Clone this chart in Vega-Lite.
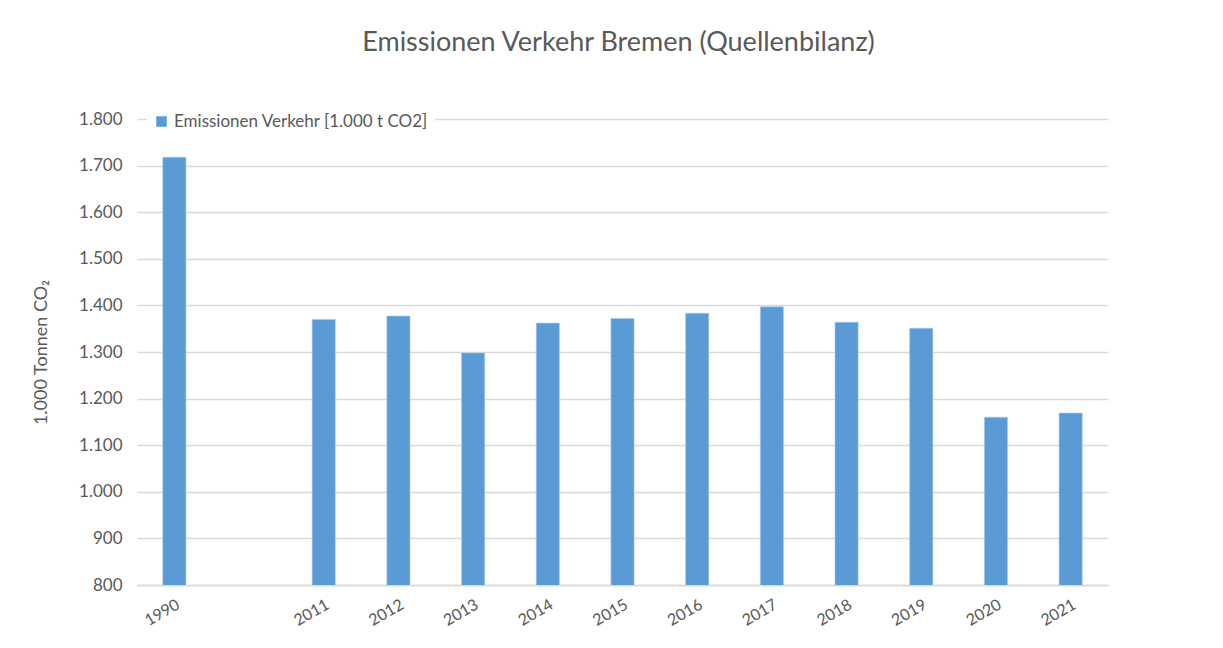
{
  "$schema": "https://vega.github.io/schema/vega-lite/v6.json",
  "width": 971,
  "height": 466,
  "autosize": {"type": "none"},
  "padding": {"left": 137, "top": 119, "right": 115, "bottom": 63},
  "background": "white",
  "config": {
    "locale": {"number": {"decimal": ",", "thousands": ".", "grouping": [3], "currency": ["", " €"]}},
    "font": "Lato",
    "view": {"stroke": null}
  },
  "title": {
    "text": "Emissionen Verkehr Bremen (Quellenbilanz)",
    "fontSize": 27,
    "font": "Lato",
    "fontWeight": "normal",
    "color": "#595959",
    "anchor": "middle",
    "dx": -4,
    "offset": 50
  },
  "data": {
    "values": [
      {"Jahr": "1990", "Wert": 1718, "Serie": "Emissionen Verkehr [1.000 t CO2]"},
      {"Jahr": "2011", "Wert": 1370, "Serie": "Emissionen Verkehr [1.000 t CO2]"},
      {"Jahr": "2012", "Wert": 1377, "Serie": "Emissionen Verkehr [1.000 t CO2]"},
      {"Jahr": "2013", "Wert": 1298, "Serie": "Emissionen Verkehr [1.000 t CO2]"},
      {"Jahr": "2014", "Wert": 1362, "Serie": "Emissionen Verkehr [1.000 t CO2]"},
      {"Jahr": "2015", "Wert": 1372, "Serie": "Emissionen Verkehr [1.000 t CO2]"},
      {"Jahr": "2016", "Wert": 1383, "Serie": "Emissionen Verkehr [1.000 t CO2]"},
      {"Jahr": "2017", "Wert": 1397, "Serie": "Emissionen Verkehr [1.000 t CO2]"},
      {"Jahr": "2018", "Wert": 1364, "Serie": "Emissionen Verkehr [1.000 t CO2]"},
      {"Jahr": "2019", "Wert": 1351, "Serie": "Emissionen Verkehr [1.000 t CO2]"},
      {"Jahr": "2020", "Wert": 1160, "Serie": "Emissionen Verkehr [1.000 t CO2]"},
      {"Jahr": "2021", "Wert": 1169, "Serie": "Emissionen Verkehr [1.000 t CO2]"}
    ]
  },
  "mark": {"type": "bar", "stroke": "#a9c9ea", "strokeWidth": 0.6, "clip": true},
  "encoding": {
    "x": {
      "field": "Jahr",
      "type": "nominal",
      "scale": {
        "domain": ["1990", " ", "2011", "2012", "2013", "2014", "2015", "2016", "2017", "2018", "2019", "2020", "2021"],
        "paddingInner": 0.69,
        "paddingOuter": 0.345
      },
      "axis": {
        "title": null,
        "labelAngle": -30,
        "labelFontSize": 16,
        "labelColor": "#595959",
        "labelFont": "Lato",
        "labelPadding": 11,
        "labelLimit": 200,
        "labelOverlap": false,
        "ticks": false,
        "domainColor": "#d9d9d9",
        "domainWidth": 1.5,
        "grid": false
      }
    },
    "y": {
      "field": "Wert",
      "type": "quantitative",
      "scale": {"domain": [800, 1800], "zero": false, "nice": false},
      "axis": {
        "title": "1.000 Tonnen CO₂",
        "titleFontSize": 18,
        "titleFont": "Lato",
        "titleFontWeight": "normal",
        "titleColor": "#595959",
        "titlePadding": 28,
        "values": [800, 900, 1000, 1100, 1200, 1300, 1400, 1500, 1600, 1700, 1800],
        "format": ",d",
        "labelFontSize": 17,
        "labelFont": "Lato",
        "labelColor": "#595959",
        "labelPadding": 15,
        "ticks": false,
        "domain": false,
        "grid": true,
        "gridColor": "#d9d9d9",
        "gridWidth": 1.3
      }
    },
    "color": {
      "field": "Serie",
      "type": "nominal",
      "scale": {"range": ["#5b9bd5"]},
      "legend": {
        "title": null,
        "orient": "none",
        "legendX": 10,
        "legendY": -12,
        "symbolType": "square",
        "symbolSize": 110,
        "symbolStrokeWidth": 0,
        "labelFontSize": 17,
        "labelFont": "Lato",
        "labelColor": "#595959",
        "labelOffset": 4,
        "labelLimit": 400,
        "fillColor": "white",
        "padding": 6
      }
    }
  }
}
